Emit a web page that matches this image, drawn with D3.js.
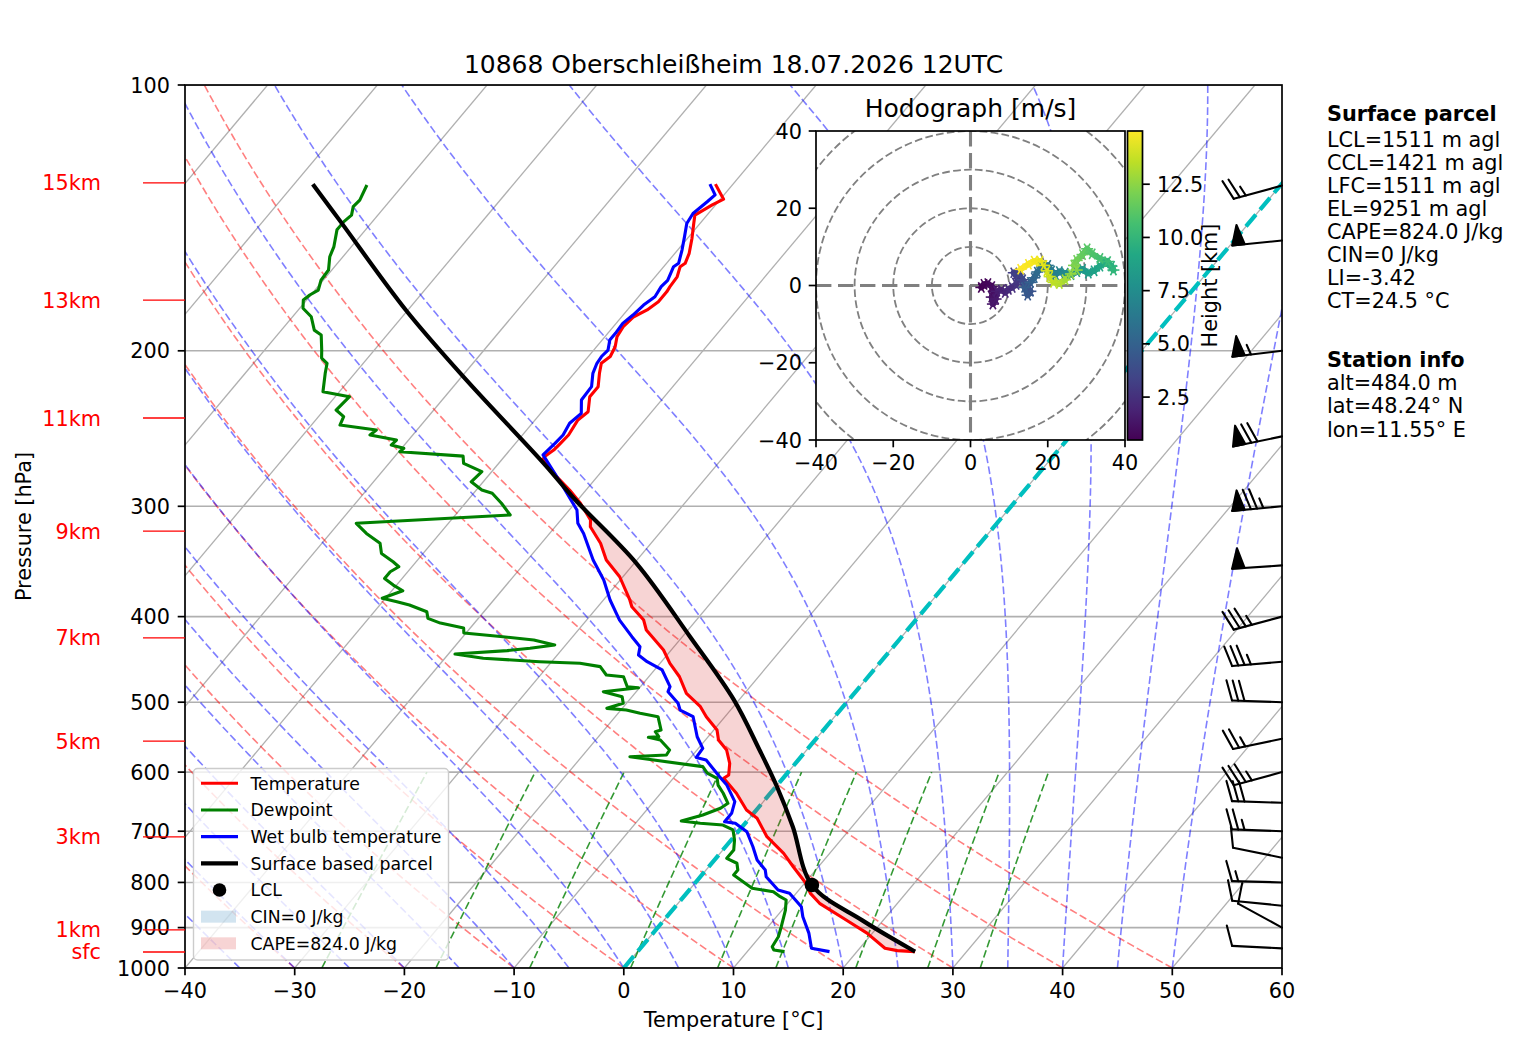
<!DOCTYPE html>
<html><head><meta charset="utf-8">
<script src="https://cdn.jsdelivr.net/npm/d3@7"></script>
<style>body{margin:0;background:#fff}svg text{font-family:"DejaVu Sans",sans-serif}</style>
</head><body>
<svg id="c" width="1517" height="1054"></svg>
<script>
// ---------------- DATA ----------------
const titleText = "10868 Oberschleißheim 18.07.2026 12UTC";
const xTicks = [-40,-30,-20,-10,0,10,20,30,40,50,60];
const yTicks = [100,200,300,400,500,600,700,800,900,1000];
// [pressure hPa, temperature °C]
const temperature = [[129.5,-51.6],[134.7,-49.7],[136.7,-50.3],[140.4,-51.1],[143.3,-50.6],[149.1,-49.6],[155.1,-48.7],[159.2,-48.3],[160.6,-48.5],[164.9,-48.0],[169.2,-47.9],[171.5,-47.8],[176.0,-47.8],[179.8,-48.2],[183.0,-48.9],[187.8,-49.1],[192.8,-48.9],[197.9,-48.3],[203.0,-48.0],[206.6,-48.3],[212.1,-47.7],[219.6,-46.8],[225.4,-46.8],[234.4,-45.8],[239.5,-46.1],[249.1,-45.8],[254.6,-45.9],[259.1,-46.0],[263.2,-46.3],[264.8,-46.3],[277.7,-43.7],[287.5,-41.5],[297.6,-39.5],[310.9,-37.3],[316.4,-36.8],[330.4,-34.6],[345.1,-32.8],[360.5,-30.3],[383.0,-27.6],[389.8,-26.9],[403.6,-24.8],[414.2,-23.8],[436.4,-20.7],[451.8,-19.1],[467.9,-17.2],[488.6,-15.3],[505.9,-13.0],[519.3,-11.7],[537.7,-9.7],[551.9,-8.8],[566.4,-7.3],[586.4,-6.0],[604.5,-5.2],[609.8,-5.4],[634.0,-3.1],[662.3,-0.9],[676.8,0.7],[710.0,3.0],[741.5,5.8],[767.9,7.7],[798.6,9.9],[823.1,11.3],[844.8,12.9],[882.4,16.6],[913.0,19.5],[949.9,22.3],[955.7,23.6],[958.2,25.3]];
const dewpoint = [[129.8,-83.3],[135.0,-82.8],[137.3,-82.9],[140.4,-82.4],[142.8,-82.6],[145.9,-82.6],[152.4,-81.6],[156.5,-81.2],[162.0,-80.3],[166.4,-80.2],[170.7,-79.7],[172.9,-80.1],[175.2,-80.3],[179.0,-79.7],[183.0,-78.3],[189.5,-77.0],[191.9,-76.0],[199.6,-74.8],[203.8,-74.2],[206.6,-73.3],[212.1,-72.7],[222.5,-71.5],[225.4,-68.7],[233.4,-68.9],[237.5,-67.7],[242.7,-67.4],[245.9,-63.7],[249.1,-63.9],[252.4,-61.1],[255.7,-61.2],[257.9,-59.8],[260.2,-59.9],[263.2,-53.8],[268.2,-53.2],[274.1,-50.9],[281.4,-51.1],[287.5,-49.5],[290.0,-48.3],[297.6,-46.7],[306.9,-45.0],[313.6,-58.4],[322.0,-56.7],[330.4,-54.7],[339.2,-53.8],[346.7,-52.1],[351.2,-51.2],[355.8,-51.6],[362.1,-51.6],[368.4,-50.3],[373.9,-49.0],[381.3,-50.3],[384.7,-48.7],[388.1,-47.3],[395.0,-45.2],[401.8,-44.6],[406.8,-43.1],[412.1,-40.6],[417.5,-40.2],[421.2,-36.6],[425.1,-33.3],[430.7,-31.0],[434.4,-33.0],[437.1,-34.9],[441.0,-39.4],[445.9,-36.5],[449.9,-31.1],[451.8,-27.3],[455.7,-25.2],[465.8,-24.0],[467.9,-22.3],[480.2,-21.2],[481.5,-20.1],[486.5,-23.0],[492.9,-20.9],[501.4,-20.3],[508.1,-21.4],[510.3,-19.5],[514.6,-18.0],[519.3,-16.1],[537.7,-14.8],[540.0,-15.2],[547.1,-14.5],[548.0,-15.4],[551.9,-14.1],[566.4,-12.5],[573.9,-12.4],[576.5,-15.6],[591.5,-8.2],[601.5,-7.3],[609.8,-6.0],[620.6,-5.4],[634.0,-4.3],[650.9,-3.1],[659.4,-3.4],[671.0,-4.5],[681.6,-6.0],[685.7,-4.1],[688.8,-1.9],[697.7,-0.6],[716.1,0.3],[735.2,1.0],[751.3,1.0],[761.0,2.3],[774.5,2.9],[784.6,2.9],[812.3,5.6],[819.6,7.8],[830.3,8.8],[837.5,9.6],[859.7,10.3],[898.0,11.2],[921.8,11.7],[946.0,11.9],[954.1,12.3],[958.2,13.4]];
const wetbulb = [[129.5,-52.1],[133.2,-50.8],[135.6,-51.0],[139.8,-51.4],[143.5,-51.2],[148.5,-50.4],[153.8,-49.6],[159.2,-48.9],[160.6,-49.1],[166.4,-48.6],[169.2,-48.7],[173.7,-48.5],[177.5,-48.9],[182.2,-49.1],[186.2,-49.4],[191.1,-49.3],[194.5,-49.3],[199.6,-48.7],[203.0,-48.8],[206.6,-48.7],[212.1,-48.3],[219.6,-47.4],[227.4,-47.3],[235.4,-46.3],[241.6,-46.6],[249.1,-46.3],[254.6,-46.4],[262.4,-46.6],[282.5,-42.8],[302.9,-39.3],[313.6,-38.2],[322.0,-36.9],[345.1,-34.0],[363.6,-31.5],[383.0,-29.4],[403.6,-27.0],[421.5,-24.6],[432.6,-23.1],[442.1,-22.6],[449.9,-21.3],[459.7,-19.3],[480.2,-17.3],[486.5,-17.1],[501.4,-15.3],[510.3,-14.6],[519.3,-12.9],[547.1,-11.0],[564.0,-9.6],[577.4,-9.5],[581.4,-8.4],[607.2,-5.9],[620.6,-4.6],[648.1,-2.6],[668.1,-2.0],[682.9,-2.0],[685.7,-0.9],[701.0,0.8],[729.0,2.5],[754.7,3.9],[774.5,5.4],[788.2,6.0],[816.1,8.1],[823.1,9.4],[852.4,11.5],[874.9,12.4],[913.0,14.2],[949.9,15.6],[958.2,17.5]];
const parcel = [[129.5,-88.3],[142.8,-82.9],[179.8,-70.2],[215.9,-59.3],[268.2,-45.9],[295.1,-40.2],[348.1,-29.8],[421.5,-19.3],[496.7,-10.5],[566.4,-4.3],[623.3,0.1],[691.8,4.6],[805.4,10.8],[883.2,18.1],[958.2,25.3]];
const lcl = [[805.4,10.8]];
// wind barbs: pressure (hPa), u, v (kt)
const barbP = [130,150,200,250,300,350,400,450,500,550,600,650,700,750,800,850,900,950];
const barbU = [24.1,49.8,54.6,68.5,74.7,49.9,33.8,34.9,30.0,24.5,33.8,30.0,25.0,9.8,15.0,10.0,8.8,10.0];
const barbV = [6.6,5.0,6.5,14.2,6.9,3.3,9.1,3.0,-1.0,5.1,9.2,-1.0,-0.9,-2.0,-0.4,-1.0,-4.8,-0.5];
// height markers on the left
const heightLabels = ["15km","13km","11km","9km","7km","5km","3km","1km","sfc"];
const heightP = [129.1,175.2,238.3,320.0,422.9,553.4,710.5,905.6,959.1];
// background line families
const dryT0 = [-40,-30,-20,-10,0,10,20,30,40,50];
const moistT0 = [-40,-35,-30,-25,-20,-15,-10,-5,0,5,10,15,20,25,30,35,40,45,50];
const mixRatios = [0.0004,0.001,0.002,0.004,0.007,0.01,0.016,0.024,0.032];
// hodograph: height (km), u, v (m/s)
const hodoH = [0.484,0.6,0.75,0.9,1.05,1.2,1.35,1.5,1.65,1.8,2.0,2.2,2.45,2.7,2.95,3.2,3.45,3.7,3.95,4.2,4.45,4.7,4.95,5.2,5.5,5.8,6.1,6.4,6.7,7.0,7.3,7.6,7.9,8.2,8.5,8.8,9.1,9.4,9.7,10.0,10.3,10.6,10.9,11.2,11.5,11.8,12.1,12.4,12.7,13.0,13.3,13.55,13.8,14.05,14.3,14.5,14.7,14.85,15.0];
const hodoU = [2.8,3.5,4.5,5.5,6.0,5.5,5.8,6.5,6.8,8.0,9.0,9.8,10.8,11.8,12.3,11.2,12.5,13.5,14.5,15.5,14.8,14.0,15.5,16.5,17.3,18.5,20.0,21.0,22.0,23.0,24.5,26.0,27.5,29.0,30.5,32.0,33.5,35.0,36.5,37.0,35.5,33.5,31.5,30.2,29.0,27.5,26.8,27.5,26.0,24.5,23.0,21.5,20.5,19.8,19.0,18.0,16.5,15.0,13.0];
const hodoV = [-0.5,0.3,0.5,-0.3,-1.5,-3.0,-4.8,-3.5,-1.5,-1.2,-1.8,-1.0,-0.5,0.3,1.8,3.3,3.0,1.5,0.0,-1.5,-2.5,-0.5,0.8,2.0,3.5,4.8,5.2,3.8,2.8,3.6,3.2,2.8,3.6,4.2,3.2,3.8,5.0,5.8,5.0,4.0,6.2,7.0,8.2,9.5,8.0,6.5,5.2,4.0,3.0,1.5,0.5,0.8,2.3,3.8,5.2,6.3,6.3,5.5,4.2];
const hodoTicks = [-40,-20,0,20,40];
const hodoRings = [10,20,30,40,50];
const cbTicks = [2.5,5,7.5,10,12.5];
const legendItems = [
  {label:"Temperature", kind:"line", color:"#ff0000", w:3.1},
  {label:"Dewpoint", kind:"line", color:"#008000", w:3.1},
  {label:"Wet bulb temperature", kind:"line", color:"#0000ff", w:3.1},
  {label:"Surface based parcel", kind:"line", color:"#000000", w:4.2},
  {label:"LCL", kind:"dot", color:"#000000"},
  {label:"CIN=0 J/kg", kind:"patch", color:"rgba(31,119,180,0.2)"},
  {label:"CAPE=824.0 J/kg", kind:"patch", color:"rgba(214,39,40,0.2)"}];
const parcelInfo = ["LCL=1511 m agl","CCL=1421 m agl","LFC=1511 m agl","EL=9251 m agl","CAPE=824.0 J/kg","CIN=0 J/kg","LI=-3.42","CT=24.5 °C"];
const stationInfo = ["alt=484.0 m","lat=48.24° N","lon=11.55° E"];

// ---------------- LAYOUT ----------------
const L=185, R=1282, T=85, B=968;
const SKEW = 0.839;
const FS = 20.8, FSL = 25, FSS = 17.3;
const svg = d3.select("#c");
const xS = d3.scaleLinear().domain([-40,60]).range([L,R]);
const yS = d3.scaleLog().domain([100,1000]).range([T,B]);
const X = (t,p) => xS(t) + SKEW*(yS(1000)-yS(p));
const minus = s => String(s).replace("-","\u2212");
const DASH = "7.7,3.3";

svg.append("defs").append("clipPath").attr("id","plotclip")
  .append("rect").attr("x",L).attr("y",T).attr("width",R-L).attr("height",B-T);
const plot = svg.append("g").attr("clip-path","url(#plotclip)");
const bg = plot.append("g");
const capeLayer = plot.append("g");
const fg = plot.append("g");

// pressure grid
bg.selectAll(".hg").data(yTicks).join("line")
  .attr("x1",L).attr("x2",R).attr("y1",d=>yS(d)).attr("y2",d=>yS(d))
  .attr("stroke","#b0b0b0").attr("stroke-width",1.6);
// isotherms
const isoT = d3.range(-180,61,10);
bg.selectAll(".iso").data(isoT).join("line")
  .attr("x1",d=>X(d,1000)).attr("y1",yS(1000)).attr("x2",d=>X(d,100)).attr("y2",yS(100))
  .attr("stroke","#b0b0b0").attr("stroke-width",1.3);

const pGrid = d3.range(0,121).map(i=>1000*Math.pow(0.1,i/120));
const lineTP = d3.line().x(d=>X(d[1],d[0])).y(d=>yS(d[0]));

// dry adiabats
dryT0.forEach(t0=>{
  const pts = pGrid.map(p=>[p,(t0+273.15)*Math.pow(p/1000,0.2857)-273.15]);
  bg.append("path").attr("d",lineTP(pts)).attr("fill","none")
    .attr("stroke","rgba(255,0,0,0.5)").attr("stroke-width",1.6).attr("stroke-dasharray",DASH);
});
// moist adiabats
function moistProfile(t0){
  const Rd=287.04749, Cp=1004.6662, Lv=2.50084e6, eps=0.6219569;
  const f=(p,Tk)=>{const es=6.112*Math.exp(17.67*(Tk-273.15)/(Tk-29.65));const rs=eps*es/(p-es);
    return (Rd*Tk+Lv*rs)/(Cp+(Lv*Lv*rs*eps)/(Rd*Tk*Tk))/p;};
  let Tk=t0+273.15; const out=[[pGrid[0],t0]];
  for(let i=1;i<pGrid.length;i++){
    const n=4, h=(pGrid[i]-pGrid[i-1])/n; let p=pGrid[i-1];
    for(let k=0;k<n;k++){
      const k1=f(p,Tk),k2=f(p+h/2,Tk+h/2*k1),k3=f(p+h/2,Tk+h/2*k2),k4=f(p+h,Tk+h*k3);
      Tk+=h/6*(k1+2*k2+2*k3+k4); p+=h;
    }
    out.push([pGrid[i],Tk-273.15]);
  }
  return out;
}
moistT0.forEach(t0=>{
  bg.append("path").attr("d",lineTP(moistProfile(t0))).attr("fill","none")
    .attr("stroke","rgba(0,0,255,0.5)").attr("stroke-width",1.6).attr("stroke-dasharray",DASH);
});
// mixing ratio lines
const pMix = d3.range(0,41).map(i=>1000-i*10);
mixRatios.forEach(w=>{
  const pts = pMix.map(p=>{const e=p*w/(0.6219569+w);const l=Math.log(e/6.112);return [p,243.5*l/(17.67-l)];});
  bg.append("path").attr("d",lineTP(pts)).attr("fill","none")
    .attr("stroke","rgba(0,128,0,0.8)").attr("stroke-width",1.6).attr("stroke-dasharray",DASH);
});
// 0 degree isotherm
bg.append("line").attr("x1",X(0,1000)).attr("y1",yS(1000)).attr("x2",X(0,100)).attr("y2",yS(100))
  .attr("stroke","#00bfbf").attr("stroke-width",4.2).attr("stroke-dasharray","15.4,6.6");

// profiles
const lin = d3.line().x(d=>X(d[1],d[0])).y(d=>yS(d[0]));
const smooth = d3.line().x(d=>X(d[1],d[0])).y(d=>yS(d[0])).curve(d3.curveCatmullRom.alpha(0.5));
fg.append("path").attr("d",lin(temperature)).attr("fill","none").attr("stroke","#ff0000").attr("stroke-width",3.1).attr("stroke-linejoin","round");
fg.append("path").attr("d",lin(dewpoint)).attr("fill","none").attr("stroke","#008000").attr("stroke-width",3.1).attr("stroke-linejoin","round");
fg.append("path").attr("d",lin(wetbulb)).attr("fill","none").attr("stroke","#0000ff").attr("stroke-width",3.1).attr("stroke-linejoin","round");
const parcelPath = fg.append("path").attr("d",smooth(parcel)).attr("fill","none").attr("stroke","#000").attr("stroke-width",4.2);
fg.selectAll(".lcl").data(lcl).join("circle").attr("cx",d=>X(d[1],d[0])).attr("cy",d=>yS(d[0])).attr("r",7.3).attr("fill","#000");

// CAPE shading: sample parcel curve, compare with the temperature line on screen
const node = parcelPath.node(), tot = node.getTotalLength();
const envPts = temperature.map(d=>[X(d[1],d[0]), yS(d[0])]).sort((a,b)=>a[1]-b[1]);
function envX(y){
  for(let i=1;i<envPts.length;i++){
    if(y<=envPts[i][1]){const a=envPts[i-1],b=envPts[i];const t=(y-a[1])/(b[1]-a[1]||1);return a[0]+t*(b[0]-a[0]);}
  }
  return envPts[envPts.length-1][0];
}
const samp = d3.range(0,1201).map(i=>{const pt=node.getPointAtLength(tot*i/1200);return {y:pt.y,xp:pt.x,xe:envX(pt.y)};})
  .filter(d=>d.y>=envPts[0][1] && d.y<=envPts[envPts.length-1][1]);
const capeArea = d3.area().defined(d=>d.xp>=d.xe).y(d=>d.y).x0(d=>d.xe).x1(d=>d.xp);
capeLayer.append("path").attr("d",capeArea(samp)).attr("fill","rgba(214,39,40,0.2)");

// wind barbs
const barbs = svg.append("g").attr("stroke","#000").attr("stroke-width",2.1).attr("fill","#000").attr("stroke-linecap","round").attr("stroke-linejoin","round");
function drawBarb(x0,y0,u,v,len){
  let mag = 5*Math.round(Math.hypot(u,v)/5);
  const nf=Math.floor(mag/50); mag-=nf*50;
  const nb=Math.floor(mag/10); mag-=nb*10;
  const hb = mag>=5;
  const a=Math.atan2(v,u)+Math.PI/2, c=Math.cos(a), s=Math.sin(a);
  const P=(px,py)=>[x0+px*c-py*s, y0-(px*s+py*c)];
  const fh=0.4*len, fw=0.25*len, sp=0.125*len;
  const seg=(p1,p2)=>barbs.append("line").attr("x1",p1[0]).attr("y1",p1[1]).attr("x2",p2[0]).attr("y2",p2[1]);
  seg(P(0,0),P(0,len));
  let off=len;
  for(let i=0;i<nf;i++){
    if(off!==len) off+=sp/2;
    barbs.append("polygon").attr("points",[P(0,off),P(fh,off-fw/2),P(0,off-fw)].map(q=>q.join(",")).join(" "));
    off-=fw+sp;
  }
  for(let i=0;i<nb;i++){ seg(P(0,off),P(fh,off+fw/2)); off-=sp; }
  if(hb){ if(off===len) off-=1.5*sp; seg(P(0,off),P(fh/2,off+fw/4)); }
}
barbP.forEach((p,i)=>drawBarb(R,yS(p),barbU[i],barbV[i],50));

// frame
svg.append("rect").attr("x",L).attr("y",T).attr("width",R-L).attr("height",B-T).attr("fill","none").attr("stroke","#000").attr("stroke-width",1.7);

// axes ticks
const ax = svg.append("g").attr("font-size",FS).attr("fill","#000");
xTicks.forEach(t=>{
  ax.append("line").attr("x1",xS(t)).attr("x2",xS(t)).attr("y1",B).attr("y2",B+7.3).attr("stroke","#000").attr("stroke-width",1.7);
  ax.append("text").attr("x",xS(t)).attr("y",998).attr("text-anchor","middle").text(minus(t));
});
yTicks.forEach(t=>{
  ax.append("line").attr("x1",L-7.3).attr("x2",L).attr("y1",yS(t)).attr("y2",yS(t)).attr("stroke","#000").attr("stroke-width",1.7);
  ax.append("text").attr("x",170).attr("y",yS(t)+7.5).attr("text-anchor","end").text(t);
});
ax.append("text").attr("x",(L+R)/2).attr("y",1027).attr("text-anchor","middle").text("Temperature [°C]");
ax.append("text").attr("transform",`translate(31,${(T+B)/2}) rotate(-90)`).attr("text-anchor","middle").text("Pressure [hPa]");
svg.append("text").attr("x",(L+R)/2).attr("y",73).attr("text-anchor","middle").attr("font-size",FSL).text(titleText);

// height labels
heightP.forEach((p,i)=>{
  svg.append("line").attr("x1",143).attr("x2",L).attr("y1",yS(p)).attr("y2",yS(p)).attr("stroke","#ff0000").attr("stroke-width",1.3);
  svg.append("text").attr("x",101).attr("y",yS(p)+7.5).attr("text-anchor","end").attr("font-size",FS).attr("fill","#ff0000").text(heightLabels[i]);
});

// legend
const lg = svg.append("g");
lg.append("rect").attr("x",193.5).attr("y",768.5).attr("width",255).attr("height",191.5).attr("rx",4)
  .attr("fill","rgba(255,255,255,0.8)").attr("stroke","#cccccc").attr("stroke-width",1.4);
legendItems.forEach((it,i)=>{
  const cy = 783.3 + i*26.67;
  if(it.kind==="line") lg.append("line").attr("x1",201).attr("x2",238).attr("y1",cy).attr("y2",cy).attr("stroke",it.color).attr("stroke-width",it.w);
  else if(it.kind==="dot") lg.append("circle").attr("cx",219.5).attr("cy",cy).attr("r",6.8).attr("fill",it.color);
  else lg.append("rect").attr("x",201).attr("y",cy-6).attr("width",35).attr("height",12).attr("fill",it.color);
  lg.append("text").attr("x",250.5).attr("y",cy+6.2).attr("font-size",FSS).text(it.label);
});

// right info text
const info = svg.append("g").attr("font-size",FS);
info.append("text").attr("x",1327).attr("y",121).attr("font-weight","bold").text("Surface parcel");
parcelInfo.forEach((s,i)=>info.append("text").attr("x",1327).attr("y",146.5+i*23.1).text(s));
info.append("text").attr("x",1327).attr("y",366.7).attr("font-weight","bold").text("Station info");
stationInfo.forEach((s,i)=>info.append("text").attr("x",1327).attr("y",390+i*23.3).text(s));

// ---------------- HODOGRAPH ----------------
const hx = d3.scaleLinear().domain([-40,40]).range([816,1125]);
const hy = d3.scaleLinear().domain([-40,40]).range([440,131]);
const hg = svg.append("g");
hg.append("rect").attr("x",816).attr("y",131).attr("width",309).attr("height",309).attr("fill","#fff");
hg.append("defs").append("clipPath").attr("id","hclip").append("rect").attr("x",816).attr("y",131).attr("width",309).attr("height",309);
const hin = hg.append("g").attr("clip-path","url(#hclip)");
hodoRings.forEach(r=>hin.append("circle").attr("cx",hx(0)).attr("cy",hy(0)).attr("r",hx(r)-hx(0))
  .attr("fill","none").attr("stroke","#808080").attr("stroke-width",1.8).attr("stroke-dasharray","7.7,3.3"));
hin.append("line").attr("x1",816).attr("x2",1125).attr("y1",hy(0)).attr("y2",hy(0)).attr("stroke","#808080").attr("stroke-width",3.1).attr("stroke-dasharray","15.4,6.6");
hin.append("line").attr("y1",131).attr("y2",440).attr("x1",hx(0)).attr("x2",hx(0)).attr("stroke","#808080").attr("stroke-width",3.1).attr("stroke-dasharray","15.4,6.6");
const hMin = hodoH[0], hMax = hodoH[hodoH.length-1];
const hcol = h => d3.interpolateViridis((h-hMin)/(hMax-hMin));
for(let i=1;i<hodoH.length;i++){
  hin.append("line").attr("x1",hx(hodoU[i-1])).attr("y1",hy(hodoV[i-1])).attr("x2",hx(hodoU[i])).attr("y2",hy(hodoV[i]))
    .attr("stroke",hcol((hodoH[i-1]+hodoH[i])/2)).attr("stroke-width",6).attr("stroke-linecap","round");
}
// star-like markers along the trace
hodoH.forEach((h,i)=>{
  const cx=hx(hodoU[i]), cy=hy(hodoV[i]);
  [0,60,120].forEach(a=>{
    const r=6, ra=a*Math.PI/180;
    hin.append("line").attr("x1",cx-r*Math.cos(ra)).attr("y1",cy-r*Math.sin(ra)).attr("x2",cx+r*Math.cos(ra)).attr("y2",cy+r*Math.sin(ra))
      .attr("stroke",hcol(h)).attr("stroke-width",1.6);
  });
});
hg.append("rect").attr("x",816).attr("y",131).attr("width",309).attr("height",309).attr("fill","none").attr("stroke","#000").attr("stroke-width",1.7);
hodoTicks.forEach(t=>{
  hg.append("line").attr("x1",hx(t)).attr("x2",hx(t)).attr("y1",440).attr("y2",447.3).attr("stroke","#000").attr("stroke-width",1.7);
  hg.append("text").attr("x",hx(t)).attr("y",470).attr("text-anchor","middle").attr("font-size",FS).text(minus(t));
  hg.append("line").attr("x1",808.7).attr("x2",816).attr("y1",hy(t)).attr("y2",hy(t)).attr("stroke","#000").attr("stroke-width",1.7);
  hg.append("text").attr("x",802).attr("y",hy(t)+7.5).attr("text-anchor","end").attr("font-size",FS).text(minus(t));
});
hg.append("text").attr("x",970.5).attr("y",117).attr("text-anchor","middle").attr("font-size",FSL).text("Hodograph [m/s]");
// colorbar
const cb = d3.scaleLinear().domain([hMin,hMax]).range([440,131]);
const grad = svg.append("defs").append("linearGradient").attr("id","vir").attr("x1",0).attr("y1",1).attr("x2",0).attr("y2",0);
d3.range(0,11).forEach(i=>grad.append("stop").attr("offset",i/10).attr("stop-color",d3.interpolateViridis(i/10)));
hg.append("rect").attr("x",1127.5).attr("y",cb(hMax)).attr("width",15).attr("height",cb(hMin)-cb(hMax)).attr("fill","url(#vir)").attr("stroke","#000").attr("stroke-width",1.7);
cbTicks.forEach(t=>{
  hg.append("line").attr("x1",1142.5).attr("x2",1149.8).attr("y1",cb(t)).attr("y2",cb(t)).attr("stroke","#000").attr("stroke-width",1.7);
  hg.append("text").attr("x",1157).attr("y",cb(t)+7.5).attr("font-size",FS).text(t.toFixed(1));
});
hg.append("text").attr("transform",`translate(1217,${(cb(hMin)+cb(hMax))/2}) rotate(-90)`).attr("text-anchor","middle").attr("font-size",FS).text("Height [km]");
</script>
</body></html>
